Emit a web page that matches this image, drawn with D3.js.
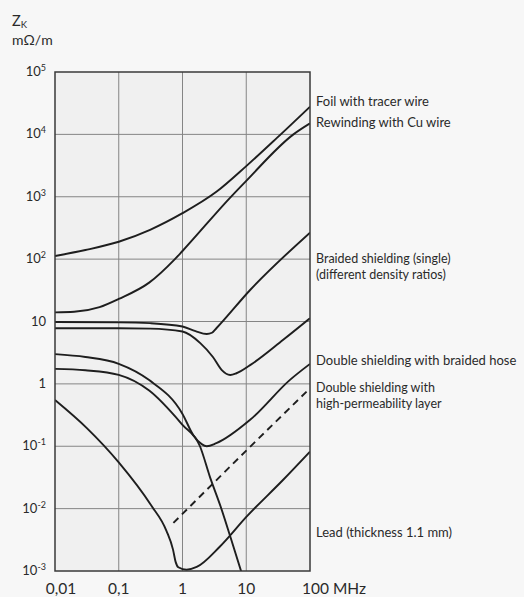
<!DOCTYPE html>
<html><head><meta charset="utf-8">
<script src="https://cdn.jsdelivr.net/npm/d3@7/dist/d3.min.js"></script>
<style>
html,body{margin:0;padding:0;background:#f7f7f7;}
svg{display:block;}
text{font-family:"Lato","Noto Sans",sans-serif;fill:#2a2a2a;}
</style></head>
<body>
<svg id="c" width="524" height="597"></svg>
<script>
// ---- data (frequency in MHz, impedance in mOhm/m) ----
const xTicks = [0.01, 0.1, 1, 10, 100];
const xTickLabels = ["0,01", "0,1", "1", "10", "100 MHz"];
const yTicks = [1e5, 1e4, 1e3, 1e2, 10, 1, 0.1, 0.01, 0.001];
const yTickBase = ["10", "10", "10", "10", "10", "1", "10", "10", "10"];
const yTickExp = ["5", "4", "3", "2", "", "", "-1", "-2", "-3"];

const foilF = [0.01, 0.03, 0.1, 0.31, 1, 3.4, 10, 30, 100];
const foilZ = [112, 140, 190, 295, 545, 1200, 3100, 8700, 27800];

const rewindF = [0.01, 0.02, 0.05, 0.1, 0.3, 0.76, 1, 5.6, 10, 55, 100];
const rewindZ = [14, 14.3, 17, 23, 42, 100, 135, 970, 1800, 10000, 15000];

const braid1F = [0.01, 0.1, 0.31, 1, 1.6, 2.4, 2.9, 3.4, 11.5, 100];
const braid1Z = [9.8, 9.7, 9.4, 8.3, 7.0, 6.3, 6.6, 7.8, 32, 266];

const braid2F = [0.01, 0.1, 0.31, 1, 1.9, 3.0, 4.1, 5.6, 7, 11.5, 38, 100];
const braid2Z = [7.8, 7.8, 7.7, 6.9, 4.5, 2.7, 1.68, 1.39, 1.48, 2.0, 5.1, 11.3];

const hoseF = [0.01, 0.03, 0.1, 0.3, 1, 1.48, 2.0, 2.4, 3.4, 11.5, 48.5, 100];
const hoseZ = [3.0, 2.7, 2.1, 1.15, 0.33, 0.15, 0.108, 0.10, 0.112, 0.265, 1.16, 2.09];

const permF = [0.01, 0.03, 0.1, 0.3, 1, 1.88, 2.7, 4, 5.6, 8.5];
const permZ = [1.74, 1.65, 1.39, 0.78, 0.22, 0.1, 0.032, 0.0105, 0.0036, 0.00092];

const permDashF = [0.72, 10, 100];
const permDashZ = [0.0059, 0.085, 0.85];

const leadF = [0.01, 0.0316, 0.1, 0.316, 0.56, 0.71, 0.78, 0.86, 1.16, 1.67, 3.87, 10.2, 38, 100];
const leadZ = [0.55, 0.195, 0.055, 0.0116, 0.0044, 0.0022, 0.0014, 0.00115, 0.00105, 0.00116, 0.00247, 0.0075, 0.029, 0.082];

const labelLines = [
  ["Foil with tracer wire", 106, 13],
  ["Rewinding with Cu wire", 127, 13],
  ["Braided shielding (single)", 263, 12.5],
  ["(different density ratios)", 279, 12.5],
  ["Double shielding with braided hose", 365, 13],
  ["Double shielding with", 392, 12.5],
  ["high-permeability layer", 408, 12.5],
  ["Lead (thickness 1.1 mm)", 537, 13]
];

// ---- drawing ----
const svg = d3.select("#c");
const L = 55, R = 310, T = 72, B = 571;
const x = d3.scaleLog().domain([0.01, 100]).range([L, R]);
const y = d3.scaleLog().domain([0.001, 1e5]).range([B, T]);

svg.append("rect").attr("x", L).attr("y", T).attr("width", R - L).attr("height", B - T)
  .attr("fill", "#f0f0f0");

svg.append("defs").append("clipPath").attr("id", "clip")
  .append("rect").attr("x", L).attr("y", T).attr("width", R - L).attr("height", B - T);

// grid
const g = svg.append("g");
g.selectAll("line.v").data(xTicks.slice(1, -1)).join("line")
  .attr("x1", d => x(d)).attr("x2", d => x(d)).attr("y1", T).attr("y2", B)
  .attr("stroke", "#858585").attr("stroke-width", 1);
g.selectAll("line.h").data(yTicks.slice(1, -1)).join("line")
  .attr("y1", d => y(d)).attr("y2", d => y(d)).attr("x1", L).attr("x2", R)
  .attr("stroke", "#858585").attr("stroke-width", 1);

// curves
const line = d3.line().x(d => x(d[0])).y(d => y(d[1])).curve(d3.curveMonotoneX);
const series = [
  [foilF, foilZ, null], [rewindF, rewindZ, null], [braid1F, braid1Z, null],
  [braid2F, braid2Z, null], [hoseF, hoseZ, null], [permF, permZ, null],
  [permDashF, permDashZ, "7,5"], [leadF, leadZ, null]
];
const cg = svg.append("g").attr("clip-path", "url(#clip)");
series.forEach(([f, z, dash]) => {
  cg.append("path").datum(f.map((v, i) => [v, z[i]]))
    .attr("d", line).attr("fill", "none").attr("stroke", "#1e1e1e")
    .attr("stroke-width", 1.9).attr("stroke-dasharray", dash);
});

// frame
svg.append("rect").attr("x", L).attr("y", T).attr("width", R - L).attr("height", B - T)
  .attr("fill", "none").attr("stroke", "#3a3a3a").attr("stroke-width", 1.5);

// y tick labels
yTicks.forEach((v, i) => {
  const t = svg.append("text").attr("x", 46).attr("y", y(v) + 4)
    .attr("text-anchor", "end").attr("font-size", 13);
  t.append("tspan").text(yTickBase[i]);
  if (yTickExp[i]) t.append("tspan").attr("font-size", 9).attr("dy", -5).text(yTickExp[i].replace("-", "\u2011"));
});

// x tick labels
xTicks.forEach((v, i) => {
  const last = i === xTicks.length - 1;
  svg.append("text").attr("x", last ? x(v) - 8 : x(v) + (i === 0 ? 6 : 0)).attr("y", 594)
    .attr("text-anchor", last ? "start" : "middle").attr("font-size", 15.5)
    .text(xTickLabels[i]);
});

// axis title
const yt = svg.append("text").attr("x", 12).attr("y", 26).attr("font-size", 14.5);
yt.append("tspan").text("Z");
yt.append("tspan").attr("font-size", 9.5).attr("dy", 2).text("K");
svg.append("text").attr("x", 12).attr("y", 45).attr("font-size", 14).text("m\u03A9/m");

// series labels
labelLines.forEach(([s, yy, fs]) => {
  svg.append("text").attr("x", 316).attr("y", yy).attr("font-size", fs).text(s);
});
</script>
</body></html>
